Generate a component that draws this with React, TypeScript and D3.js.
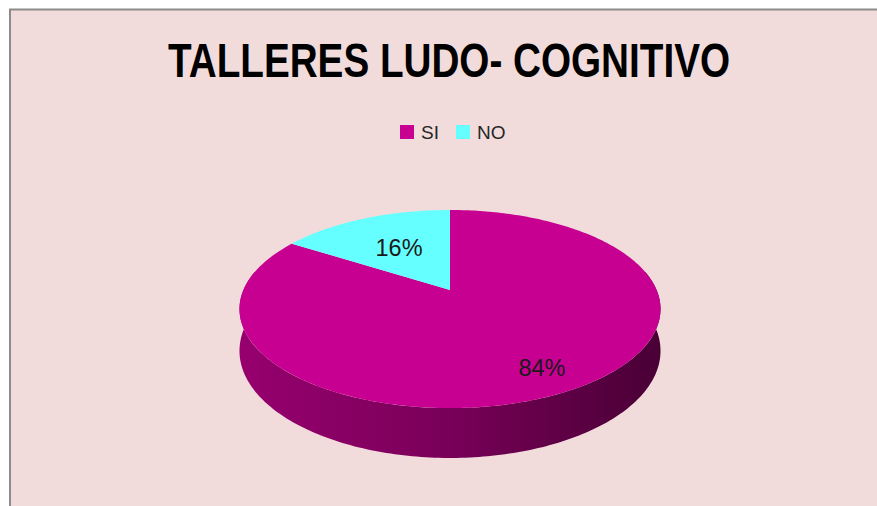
import * as d3 from "d3";

// chart data
const categories = ["SI", "NO"];
const values = [84, 16];
const colors = ["#C80092", "#66FFFF"];
const title = "TALLERES LUDO- COGNITIVO";

const W = 877;
const H = 506;

// 3d pie projection params
const cx = 450;
const cy = 290;
const A = 206.6; // horizontal radius
const B = 95.4; // depth radius
const K = 0.192; // perspective
const DEPTH = 40.3; // side height
const labelR = [0.8, 0.56];

const proj = (phi: number, r: number, t: number): [number, number] => {
    const u = Math.sin(phi) * r;
    const v = -Math.cos(phi) * r;
    const w = 1 - K * v;
    return [cx + (A * u) / w, cy + (B * v + DEPTH * t) / w];
};

export default function App() {
    const pie = d3.pie<number>().sort(null).value((d) => d);
    const arcs = pie(values);

    const total = d3.sum(values);
    const fmt = d3.format(".0%");
    const step = Math.PI / 180;

    // side of the cylinder: front half only, as one path per slice
    const sidePath = (a0: number, a1: number) => {
        if (a1 <= a0) return null;
        const n = Math.max(2, Math.ceil((a1 - a0) / step));
        const top: [number, number][] = [];
        const bot: [number, number][] = [];
        for (let j = 0; j <= n; j++) {
            const p = a0 + ((a1 - a0) * j) / n;
            top.push(proj(p, 1, 0));
            bot.push(proj(p, 1, 1));
        }
        const pts = top.concat(bot.reverse());
        return "M" + pts.map((q) => q.join(",")).join("L") + "Z";
    };

    const frontFrom = Math.PI / 2 - 0.2;
    const frontTo = (3 * Math.PI) / 2 + 0.2;

    const topPath = (a: d3.PieArcDatum<number>) => {
        const pts: [number, number][] = [[cx, cy]];
        const n = Math.max(2, Math.ceil((a.endAngle - a.startAngle) / step));
        for (let j = 0; j <= n; j++) {
            pts.push(proj(a.startAngle + ((a.endAngle - a.startAngle) * j) / n, 1, 0));
        }
        return "M" + pts.map((q) => q.join(",")).join("L") + "Z";
    };

    const shade = (c: string, t: number) => d3.interpolateRgb(c, "#000")(t);

    return (
        <svg
            width={W}
            height={H}
            style={{ position: "absolute", left: 0, top: 0 }}
            fontFamily="'Liberation Sans', Arial, sans-serif"
        >
            <defs>
                {colors.map((c, i) => (
                    <linearGradient key={i} id={"side" + i} gradientUnits="userSpaceOnUse" x1={cx - A} x2={cx + A} y1={0} y2={0}>
                        <stop offset="0" stopColor={shade(c, 0.25)} />
                        <stop offset="0.45" stopColor={shade(c, 0.38)} />
                        <stop offset="1" stopColor={shade(c, 0.63)} />
                    </linearGradient>
                ))}
            </defs>
            <rect x={0} y={0} width={W} height={H} fill="#fff" />
            <rect x={10} y={9.5} width={W + 20} height={H + 20} fill="#F2DCDB" stroke="#8c8c8c" strokeWidth={2} />

            <text
                x={449}
                y={77}
                textAnchor="middle"
                fontSize={48}
                fontWeight="bold"
                fill="#000"
                textLength={562}
                lengthAdjust="spacingAndGlyphs"
            >
                {title}
            </text>

            {/* legend */}
            {categories.map((c, i) => {
                const lx = [400, 456][i];
                return (
                    <g key={c}>
                        <rect x={lx} y={125} width={14} height={14} fill={colors[i]} />
                        <text x={lx + 21} y={139} fontSize={19} fill="#262626">
                            {c}
                        </text>
                    </g>
                );
            })}

            {/* side */}
            {arcs.map((a, i) => {
                const d = sidePath(Math.max(a.startAngle, frontFrom), Math.min(a.endAngle, frontTo));
                return d ? <path key={"s" + i} d={d} fill={`url(#side${i})`} /> : null;
            })}

            {/* top */}
            {arcs.map((a, i) => (
                <path key={categories[i]} d={topPath(a)} fill={colors[i]} />
            ))}

            {/* labels */}
            {arcs.map((a, i) => {
                const [lx, ly] = proj((a.startAngle + a.endAngle) / 2, labelR[i], 0);
                return (
                    <text
                        key={"l" + i}
                        x={lx}
                        y={ly + 8.5}
                        textAnchor="middle"
                        fontSize={23.5}
                        fill="#1a1a1a"
                    >
                        {fmt(values[i] / total)}
                    </text>
                );
            })}
        </svg>
    );
}
